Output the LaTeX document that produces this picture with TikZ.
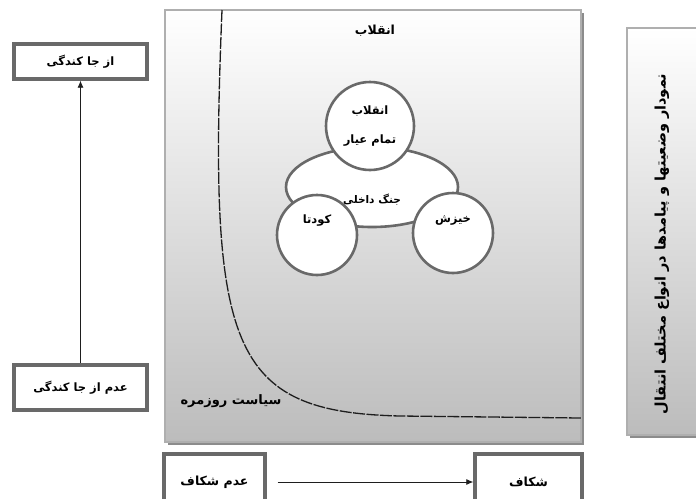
\documentclass[tikz,border=0pt]{standalone}
\usepackage{fontspec}
\usepackage{tikz}
\usetikzlibrary{shapes.geometric, arrows.meta, positioning}
\TeXXeTstate=1
\newfontfamily\farsifont[Script=Arabic]{DejaVu Sans}
\newcommand{\fa}[1]{{\farsifont\bfseries\beginR #1\endR}}
\definecolor{boxgray}{RGB}{105,105,105}
\definecolor{framegray}{RGB}{175,175,175}
\definecolor{shadegray}{RGB}{188,188,188}
\definecolor{myshadow}{RGB}{140,140,140}
\definecolor{mydark}{RGB}{30,30,30}
\tikzset{
  statebox/.style={rectangle, draw=boxgray, fill=white,
    minimum width=133pt, minimum height=35pt, inner sep=0pt,
    font=\fontsize{11.5}{13}\selectfont, line width=3.4pt},
  ring/.style={circle, draw=boxgray, fill=white, inner sep=0pt,
    align=center, font=\fontsize{11.5}{13}\selectfont, line width=2.6pt},
  blob/.style={ellipse, draw=boxgray, fill=white, inner sep=0pt,
    minimum width=172pt, minimum height=80pt, line width=2.6pt,
    font=\fontsize{10.5}{12}\selectfont},
  panel/.style={top color=white, bottom color=shadegray,
    draw=framegray, line width=1.4pt},
  arrow/.style={-{Latex[length=7pt,width=6pt]}, line width=0.8pt, color=mydark},
  curve/.style={line width=1.3pt, color=mydark, dash pattern=on 12pt off 1.5pt},
  plain/.style={font=\fontsize{10.5}{12}\selectfont}
}
\begin{document}
\begin{tikzpicture}[x=1pt, y=-1pt]
  \useasboundingbox (0,0) rectangle (696,498);
  \clip (0,0) rectangle (696,498);
  % shaded panels
  \fill[myshadow] (168,13) rectangle (584,445);
  \shade[panel] (165,10) rectangle (581,442);
  \fill[myshadow] (630,31) rectangle (702,438);
  \shade[panel] (627,28) rectangle (700,435);
  % everyday politics
  \draw[curve] (222,10) .. controls (208,350) and (230,412) .. (400,416) -- (581,418);
  \node[plain, font=\fontsize{13}{15}\selectfont] (daily) at (231,401) {\fa{سیاست روزمره}};
  \node[plain, font=\fontsize{12.5}{14}\selectfont] (revtop) at (375,31) {\fa{انقلاب}};
  % outcomes
  \node[blob, text height=32pt, text depth=0pt] (civil) at (372,187) {\fa{جنگ داخلی}};
  \node[ring, minimum size=88pt] (revo) at (370,126) {\fa{انقلاب}\\[16pt]\fa{تمام عیار}};
  \node[ring, minimum size=80pt, text height=0pt, text depth=24pt] (coup) at (317,235) {\fa{کودتا}};
  \node[ring, minimum size=80pt, text height=0pt, text depth=22pt] (rise) at (453,233) {\fa{خیزش}};
  % axes
  \node[statebox] (uproot) at (80.5,61.5) {\fa{از جا کندگی}};
  \node[statebox, minimum height=45pt] (nouproot) at (80.5,387.5) {\fa{عدم از جا کندگی}};
  \node[statebox, minimum width=101pt, minimum height=56pt, font=\fontsize{12.5}{14}\selectfont] (nogap) at (214.5,482) {\fa{عدم شکاف}};
  \node[statebox, minimum width=107pt, minimum height=56pt, font=\fontsize{12.5}{14}\selectfont] (gap) at (528.5,482) {\fa{شکاف}};
  \draw[arrow] (nouproot) -- (uproot);
  \draw[arrow, shorten <=11pt] (nogap) -- (gap);
  % title
  \node[plain, rotate=90, font=\fontsize{14.5}{16}\selectfont] (title) at (662,244)
    {\fa{نمودار وضعیتها و پیامدها در انواع مختلف انتقال}};
\end{tikzpicture}
\end{document}
